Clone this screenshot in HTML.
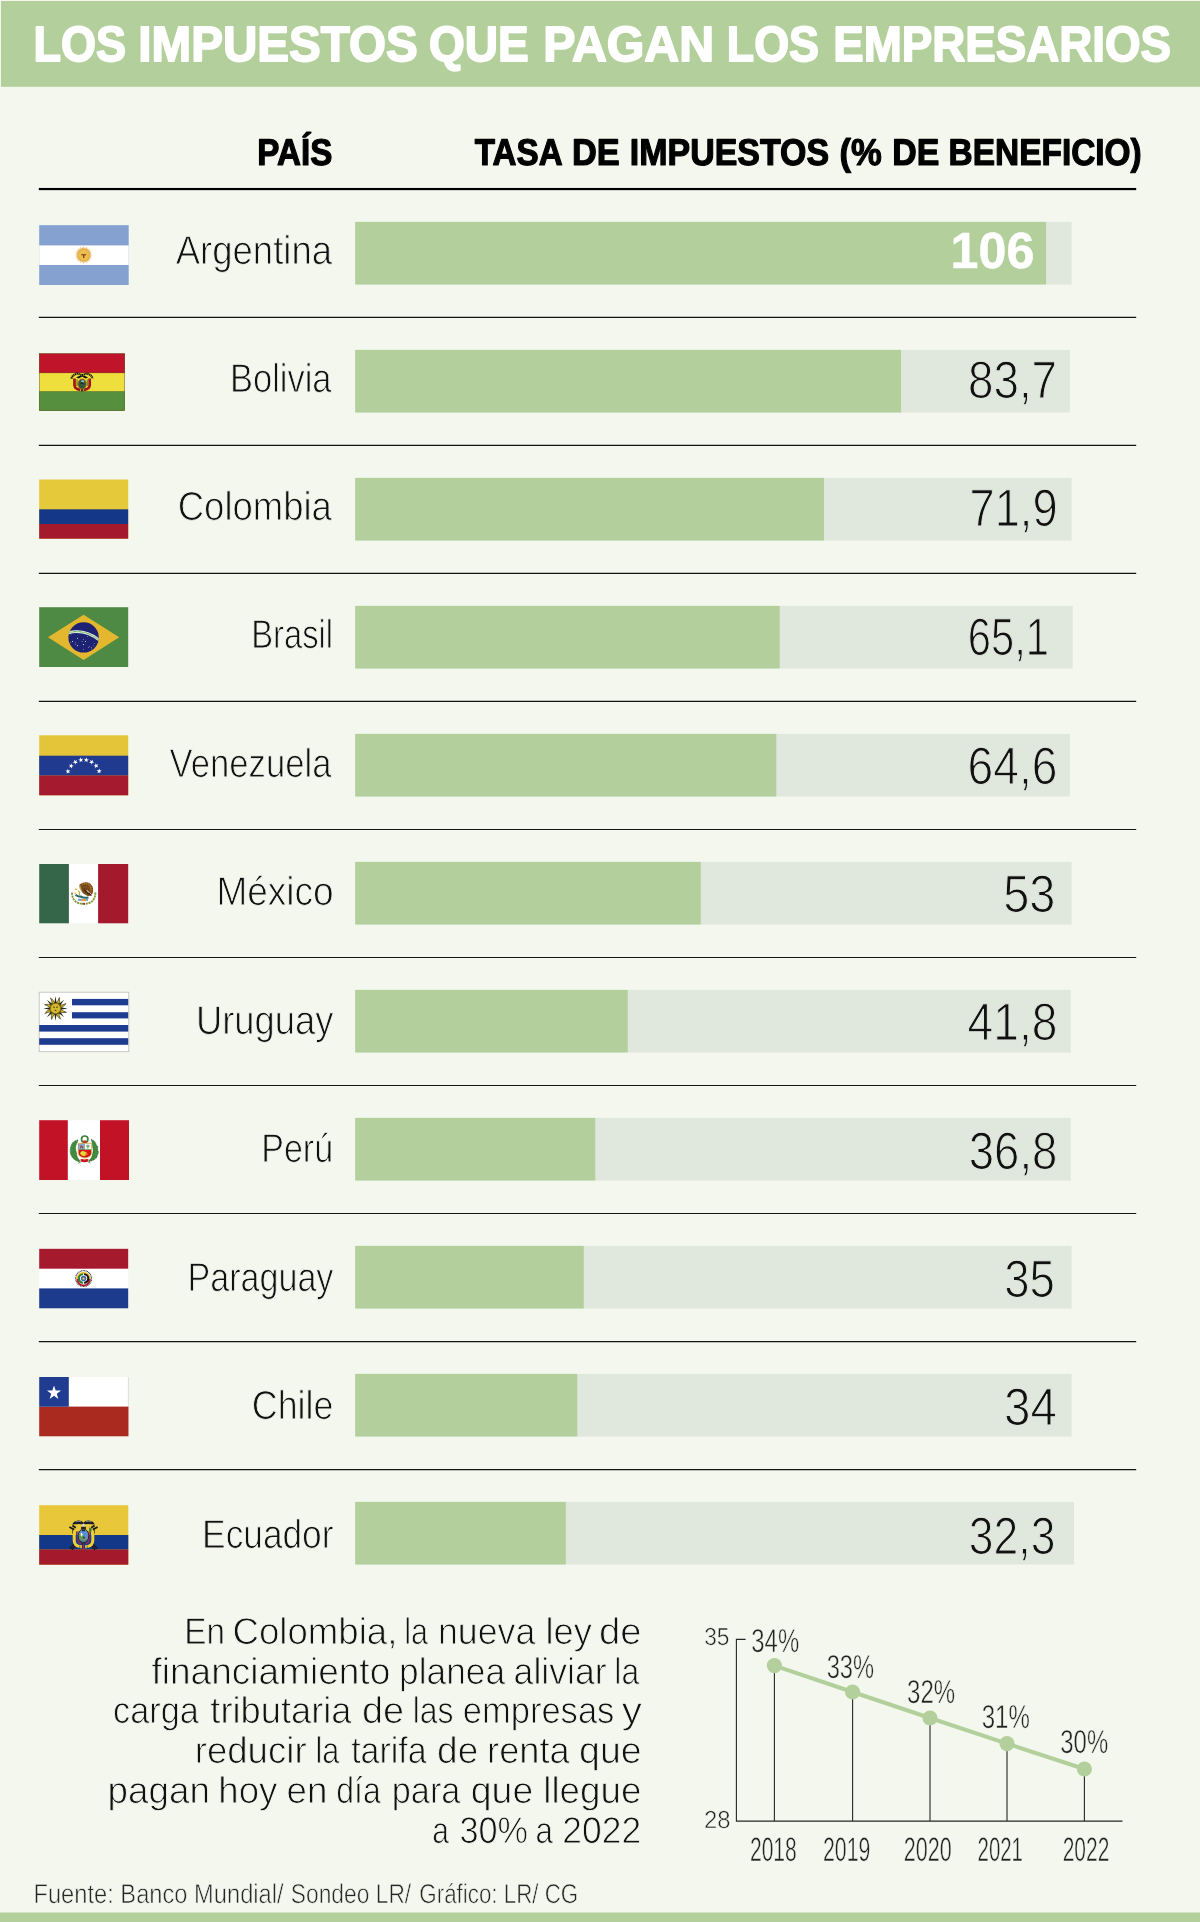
<!DOCTYPE html>
<html lang="es"><head><meta charset="utf-8"><title>Los impuestos que pagan los empresarios</title>
<style>html,body{margin:0;padding:0;background:#f4f7ee;}body{width:1200px;height:1922px;overflow:hidden;font-family:"Liberation Sans", sans-serif;}</style>
</head><body>
<svg width="1200" height="1922" viewBox="0 0 1200 1922" font-family='"Liberation Sans", sans-serif' style="display:block">
<rect width="1200" height="1922" fill="#f4f7ee"/>
<rect x="1" y="1" width="1199" height="85.8" fill="#b3cf9c"/>
<rect x="0" y="1912.5" width="1200" height="9.5" fill="#b3cf9c"/>
<rect x="38.8" y="187.95" width="1097.4" height="2.2" fill="#000"/>
<rect x="38.8" y="316.75" width="1097.4" height="1.25" fill="#141412"/>
<rect x="38.8" y="444.75" width="1097.4" height="1.25" fill="#141412"/>
<rect x="38.8" y="572.75" width="1097.4" height="1.25" fill="#141412"/>
<rect x="38.8" y="700.75" width="1097.4" height="1.25" fill="#141412"/>
<rect x="38.8" y="829" width="1097.4" height="1.0" fill="#141412"/>
<rect x="38.8" y="957" width="1097.4" height="1.0" fill="#141412"/>
<rect x="38.8" y="1085" width="1097.4" height="1.0" fill="#141412"/>
<rect x="38.8" y="1213" width="1097.4" height="1.0" fill="#141412"/>
<rect x="38.8" y="1341" width="1097.4" height="1.25" fill="#141412"/>
<rect x="38.8" y="1469" width="1097.4" height="1.25" fill="#141412"/>
<rect x="355.2" y="221.90" width="716.40" height="62.6" fill="#e0e7dd"/>
<rect x="355.2" y="221.90" width="690.90" height="62.6" fill="#b3cf9c"/>
<rect x="355.2" y="349.90" width="714.70" height="62.6" fill="#e0e7dd"/>
<rect x="355.2" y="349.90" width="545.80" height="62.6" fill="#b3cf9c"/>
<rect x="355.2" y="477.90" width="716.40" height="62.6" fill="#e0e7dd"/>
<rect x="355.2" y="477.90" width="468.80" height="62.6" fill="#b3cf9c"/>
<rect x="355.2" y="605.90" width="717.50" height="62.6" fill="#e0e7dd"/>
<rect x="355.2" y="605.90" width="424.50" height="62.6" fill="#b3cf9c"/>
<rect x="355.2" y="733.90" width="714.70" height="62.6" fill="#e0e7dd"/>
<rect x="355.2" y="733.90" width="421.10" height="62.6" fill="#b3cf9c"/>
<rect x="355.2" y="861.90" width="716.40" height="62.6" fill="#e0e7dd"/>
<rect x="355.2" y="861.90" width="345.55" height="62.6" fill="#b3cf9c"/>
<rect x="355.2" y="989.90" width="715.50" height="62.6" fill="#e0e7dd"/>
<rect x="355.2" y="989.90" width="272.55" height="62.6" fill="#b3cf9c"/>
<rect x="355.2" y="1117.90" width="715.50" height="62.6" fill="#e0e7dd"/>
<rect x="355.2" y="1117.90" width="240.05" height="62.6" fill="#b3cf9c"/>
<rect x="355.2" y="1245.90" width="716.40" height="62.6" fill="#e0e7dd"/>
<rect x="355.2" y="1245.90" width="228.55" height="62.6" fill="#b3cf9c"/>
<rect x="355.2" y="1373.90" width="716.40" height="62.6" fill="#e0e7dd"/>
<rect x="355.2" y="1373.90" width="222.05" height="62.6" fill="#b3cf9c"/>
<rect x="355.2" y="1501.90" width="718.80" height="62.6" fill="#e0e7dd"/>
<rect x="355.2" y="1501.90" width="210.55" height="62.6" fill="#b3cf9c"/>
<g id="flag-ar">
<rect x="39.2" y="225.2" width="89.5" height="59.8" fill="#84a1cf"/>
<rect x="39.2" y="245.4" width="89.5" height="19.6" fill="#fff"/>
<polygon points="83.70,246.00 84.79,249.51 87.14,246.69 86.81,250.34 90.06,248.64 88.36,251.89 92.01,251.56 89.19,253.91 92.70,255.00 89.19,256.09 92.01,258.44 88.36,258.11 90.06,261.36 86.81,259.66 87.14,263.31 84.79,260.49 83.70,264.00 82.61,260.49 80.26,263.31 80.59,259.66 77.34,261.36 79.04,258.11 75.39,258.44 78.21,256.09 74.70,255.00 78.21,253.91 75.39,251.56 79.04,251.89 77.34,248.64 80.59,250.34 80.26,246.69 82.61,249.51" fill="#e8b554" opacity="0.9"/>
<polygon points="85.26,247.15 85.77,250.01 88.14,248.35 87.52,251.18 90.35,250.56 88.69,252.93 91.55,253.44 89.10,255.00 91.55,256.56 88.69,257.07 90.35,259.44 87.52,258.82 88.14,261.65 85.77,259.99 85.26,262.85 83.70,260.40 82.14,262.85 81.63,259.99 79.26,261.65 79.88,258.82 77.05,259.44 78.71,257.07 75.85,256.56 78.30,255.00 75.85,253.44 78.71,252.93 77.05,250.56 79.88,251.18 79.26,248.35 81.63,250.01 82.14,247.15 83.70,249.60" fill="#e2a544" opacity="0.85"/>
<circle cx="83.7" cy="255" r="5.2" fill="#ecc04e"/>
<path d="M81.2 254.2h5v1.1h-1.9v2.8h-1.2v-2.8h-1.9z" fill="#7a2e12"/>
</g>
<g id="flag-bo">
<rect x="39.2" y="353.5" width="85.6" height="57.3" fill="#eedf3c"/>
<rect x="39.2" y="353.5" width="85.6" height="19.3" fill="#c0142a"/>
<rect x="39.2" y="391.3" width="85.6" height="19.50" fill="#56903f"/>
<rect x="39.2" y="372.4" width="85.6" height="0.7" fill="#7d1220" opacity="0.8"/>
<rect x="39.2" y="391" width="85.6" height="0.6" fill="#6b7a20" opacity="0.8"/>
<rect x="39.400000000000006" y="353.7" width="85.19999999999999" height="56.9" fill="none" stroke="#3c3a22" stroke-width="0.5" opacity="0.75"/>
<path d="M71.4 378.6 Q72.6 374.6 77.6 373.6 L82.1 375.2 L86.6 373.6 Q91.6 374.6 92.8 378.6" fill="none" stroke="#15150c" stroke-width="2.1" stroke-dasharray="1.3 0.55"/>
<path d="M76 377.4 Q82.1 373.8 88.2 377.4 L85.4 378.4 L82.1 376.6 L78.8 378.4Z" fill="#15150c"/>
<path d="M74.5 378.6 V385.4 Q75 389.2 80.2 389.8" fill="none" stroke="#9a1b1a" stroke-width="2.7"/>
<path d="M89.7 378.6 V385.4 Q89.2 389.2 84 389.8" fill="none" stroke="#9a1b1a" stroke-width="2.7"/>
<path d="M77 379.5 V386 M87.2 379.5 V386" fill="none" stroke="#3d5a1e" stroke-width="0.9"/>
<ellipse cx="82.1" cy="384.1" rx="4.1" ry="5.1" fill="#2f5a38" stroke="#b9541c" stroke-width="0.9"/>
<ellipse cx="82.6" cy="381.4" rx="1.6" ry="1.1" fill="#8cc4dc"/>
<path d="M80 383.5 l2-1.8 2.2 2.6 z" fill="#1c2a22"/>
<rect x="80.8" y="389.3" width="2.6" height="2.2" fill="#3a2a2a"/>
</g>
<g id="flag-co">
<rect x="39.2" y="479.5" width="89" height="59.2" fill="#e6c83b"/>
<rect x="39.2" y="509.3" width="89" height="14.8" fill="#143887"/>
<rect x="39.2" y="524" width="89" height="14.70" fill="#a4192b"/>
</g>
<g id="flag-br">
<rect x="39.2" y="607.2" width="89" height="59.8" fill="#4f8a44"/>
<polygon points="48,637.3 83.6,614.7 119.2,637.3 83.6,660" fill="#e3b82f"/>
<circle cx="83.6" cy="637.4" r="15.2" fill="#1d2372"/>
<clipPath id="brc"><circle cx="83.6" cy="637.4" r="15.2"/></clipPath>
<g clip-path="url(#brc)"><path d="M67 633 Q84.5 628.2 99.5 640.3" fill="none" stroke="#f4f6ee" stroke-width="2.7"/>
<path d="M67 633 Q84.5 628.2 99.5 640.3" fill="none" stroke="#3f9a3f" stroke-width="1.3" stroke-dasharray="0.7 0.5"/></g>
<circle cx="77.48" cy="638.28" r="0.55" fill="#fff" opacity="0.9"/>
<circle cx="72.52" cy="641.48" r="0.55" fill="#fff" opacity="0.9"/>
<circle cx="70.48" cy="642.60" r="0.4" fill="#fff" opacity="0.9"/>
<circle cx="75.40" cy="642.80" r="0.4" fill="#fff" opacity="0.9"/>
<circle cx="75.20" cy="644.20" r="0.4" fill="#fff" opacity="0.9"/>
<circle cx="77.40" cy="645.60" r="0.55" fill="#fff" opacity="0.9"/>
<circle cx="83.52" cy="639.72" r="0.4" fill="#fff" opacity="0.9"/>
<circle cx="82.08" cy="641.60" r="0.4" fill="#fff" opacity="0.9"/>
<circle cx="85.48" cy="641.48" r="0.55" fill="#fff" opacity="0.9"/>
<circle cx="83.60" cy="644.60" r="0.55" fill="#fff" opacity="0.9"/>
<circle cx="83.52" cy="649.40" r="0.4" fill="#fff" opacity="0.9"/>
<circle cx="87.40" cy="636.40" r="0.4" fill="#fff" opacity="0.9"/>
<circle cx="71.00" cy="634.80" r="0.4" fill="#fff" opacity="0.9"/>
<circle cx="88.60" cy="647.40" r="0.4" fill="#fff" opacity="0.9"/>
<circle cx="89.60" cy="646.40" r="0.4" fill="#fff" opacity="0.9"/>
<circle cx="91.40" cy="647.40" r="0.4" fill="#fff" opacity="0.9"/>
<circle cx="94.20" cy="643.40" r="0.4" fill="#fff" opacity="0.9"/>
<circle cx="93.20" cy="645.80" r="0.4" fill="#fff" opacity="0.9"/>
<circle cx="91.60" cy="649.00" r="0.4" fill="#fff" opacity="0.9"/>
</g>
<g id="flag-ve">
<rect x="39.2" y="735.3" width="89" height="60" fill="#e4c53a"/>
<rect x="39.2" y="755.7" width="89" height="19.9" fill="#203a8f"/>
<rect x="39.2" y="775.5" width="89" height="19.80" fill="#a61a30"/>
<polygon points="65.37,770.73 67.31,770.54 67.76,768.64 68.54,770.43 70.49,770.28 69.02,771.57 69.77,773.37 68.09,772.38 66.61,773.65 67.03,771.74" fill="#fff"/>
<polygon points="68.95,764.45 70.82,765.01 71.96,763.42 72.01,765.37 73.87,765.95 72.03,766.60 72.05,768.55 70.86,767.00 69.01,767.62 70.12,766.02" fill="#fff"/>
<polygon points="73.86,759.74 75.39,760.95 77.03,759.90 76.35,761.73 77.85,762.97 75.91,762.88 75.19,764.70 74.67,762.82 72.73,762.70 74.35,761.62" fill="#fff"/>
<polygon points="80.32,757.35 81.28,759.05 83.19,758.69 81.88,760.13 82.81,761.84 81.03,761.03 79.69,762.45 79.91,760.51 78.15,759.67 80.07,759.28" fill="#fff"/>
<polygon points="86.85,757.35 87.10,759.28 89.01,759.67 87.25,760.51 87.47,762.45 86.13,761.03 84.36,761.84 85.29,760.13 83.97,758.69 85.89,759.05" fill="#fff"/>
<polygon points="93.14,759.74 92.65,761.62 94.27,762.70 92.33,762.82 91.81,764.70 91.09,762.88 89.15,762.97 90.65,761.73 89.97,759.90 91.61,760.95" fill="#fff"/>
<polygon points="98.38,764.28 97.22,765.85 98.32,767.46 96.47,766.84 95.29,768.39 95.31,766.44 93.47,765.79 95.33,765.20 95.38,763.25 96.51,764.84" fill="#fff"/>
<polygon points="101.80,770.56 100.13,771.58 100.56,773.48 99.08,772.21 97.40,773.20 98.14,771.40 96.68,770.11 98.63,770.27 99.40,768.48 99.86,770.37" fill="#fff"/>
</g>
<g id="flag-mx">
<rect x="39.2" y="864" width="89" height="59.3" fill="#fff"/>
<rect x="39.2" y="864" width="29.7" height="59.3" fill="#36664a"/>
<rect x="98.1" y="864" width="30.10" height="59.3" fill="#a41a2c"/>
<path d="M72 892.6 Q72.2 903.8 83.7 903.9 Q95.2 903.8 95.4 892.6" fill="none" stroke="#8a9838" stroke-width="1.9" stroke-dasharray="2.2 0.7"/>
<path d="M79.5 884.5 Q85 880.5 90.2 883.6 Q94.2 887.5 92.8 893 Q91.5 896.5 87.5 896 L83.2 893.5 Q80.5 890.5 81 888 Q79 887 79.5 884.5Z" fill="#80501f"/>
<path d="M82 884.5 Q86 882.5 89.5 885 Q91.8 888 90.8 891.5" fill="none" stroke="#a8762f" stroke-width="1.6" stroke-dasharray="1.2 0.8"/>
<path d="M86.5 890.5 L91.5 894.8" stroke="#f3ede0" stroke-width="1.1"/>
<path d="M81.5 886.5 Q85.5 884 89 886.5 M82.5 889 Q86 887 90 890.5 M85 892.5 Q88 893 90.5 893.5" fill="none" stroke="#4a2c10" stroke-width="1" stroke-dasharray="0.9 1.1"/>
<path d="M80.2 885.6 Q79.4 888 81.2 890.2" fill="none" stroke="#a89a3a" stroke-width="1.3"/>
<path d="M84 889.5 Q88 893.5 91.5 895.5" fill="none" stroke="#3a2410" stroke-width="1.2"/>
<path d="M75 889 l2.2 0.6 M78.2 890.5 l1.6 2.2 M79.2 892.6 l0.4 2.4" stroke="#c9a52c" stroke-width="1.2" fill="none"/>
<path d="M75.5 894.8 Q78 897 81 896.6 Q84 898.5 88.5 897.4" fill="none" stroke="#2f6b66" stroke-width="2.1"/>
<rect x="78" y="898.8" width="10" height="2" fill="#4f8fd0" opacity="0.85"/>
<rect x="81.3" y="898.9" width="4.6" height="2.2" fill="#e39a3a"/>
<rect x="82.3" y="902.8" width="1.3" height="1.8" fill="#3c7a3a"/><rect x="83.6" y="902.8" width="1.3" height="1.8" fill="#b82030"/>
<circle cx="75.2" cy="893.3" r="0.7" fill="#e07a2a"/>
</g>
<g id="flag-uy">
<rect x="39.2" y="992.2" width="89.6" height="59.5" fill="#fff" stroke="#bdbdb6" stroke-width="0.8"/>
<rect x="72" y="998.9" width="56.20" height="6.40" fill="#1e3c90"/>
<rect x="72" y="1012.2" width="56.20" height="6.20" fill="#1e3c90"/>
<rect x="39.2" y="1025" width="89.00" height="6.60" fill="#1e3c90"/>
<rect x="39.2" y="1038.2" width="89.00" height="6.60" fill="#1e3c90"/>
<polygon points="56.75,1004.00 55.50,996.20 54.25,1004.00" fill="#2a2614"/>
<polygon points="59.57,1006.20 64.20,999.80 57.80,1004.43" fill="#2a2614"/>
<polygon points="60.00,1009.75 67.80,1008.50 60.00,1007.25" fill="#2a2614"/>
<polygon points="57.80,1012.57 64.20,1017.20 59.57,1010.80" fill="#2a2614"/>
<polygon points="54.25,1013.00 55.50,1020.80 56.75,1013.00" fill="#2a2614"/>
<polygon points="51.43,1010.80 46.80,1017.20 53.20,1012.57" fill="#2a2614"/>
<polygon points="51.00,1007.25 43.20,1008.50 51.00,1009.75" fill="#2a2614"/>
<polygon points="53.20,1004.43 46.80,999.80 51.43,1006.20" fill="#2a2614"/>
<path d="M58.79 1004.99 Q60.23 1001.26 59.38 997.55 Q58.28 1000.99 55.65 1003.69Z" fill="#cdb22a" stroke="#2a2408" stroke-width="0.6"/>
<path d="M60.31 1008.35 Q63.97 1006.73 65.99 1003.51 Q62.78 1005.16 59.01 1005.21Z" fill="#cdb22a" stroke="#2a2408" stroke-width="0.6"/>
<path d="M59.01 1011.79 Q62.74 1013.23 66.45 1012.38 Q63.01 1011.28 60.31 1008.65Z" fill="#cdb22a" stroke="#2a2408" stroke-width="0.6"/>
<path d="M55.65 1013.31 Q57.27 1016.97 60.49 1018.99 Q58.84 1015.78 58.79 1012.01Z" fill="#cdb22a" stroke="#2a2408" stroke-width="0.6"/>
<path d="M52.21 1012.01 Q50.77 1015.74 51.62 1019.45 Q52.72 1016.01 55.35 1013.31Z" fill="#cdb22a" stroke="#2a2408" stroke-width="0.6"/>
<path d="M50.69 1008.65 Q47.03 1010.27 45.01 1013.49 Q48.22 1011.84 51.99 1011.79Z" fill="#cdb22a" stroke="#2a2408" stroke-width="0.6"/>
<path d="M51.99 1005.21 Q48.26 1003.77 44.55 1004.62 Q47.99 1005.72 50.69 1008.35Z" fill="#cdb22a" stroke="#2a2408" stroke-width="0.6"/>
<path d="M55.35 1003.69 Q53.73 1000.03 50.51 998.01 Q52.16 1001.22 52.21 1004.99Z" fill="#cdb22a" stroke="#2a2408" stroke-width="0.6"/>
<circle cx="55.5" cy="1008.5" r="5.6" fill="#d4ba2c" stroke="#3a300c" stroke-width="0.6"/>
<path d="M53 1007.2h1.9 M56.1 1007.2h1.9" stroke="#1c180a" stroke-width="0.7"/>
<path d="M54.2 1010.3 q1.3 -1 2.6 0 q-1.3 0.9 -2.6 0z" fill="#1c180a"/>
<circle cx="55.5" cy="1008.5" r="5.2" fill="none" stroke="#4f4410" stroke-width="1.3" stroke-dasharray="0.6 0.8" opacity="0.8"/>
</g>
<g id="flag-pe">
<rect x="39.2" y="1120.2" width="89.8" height="59.8" fill="#fff"/>
<rect x="39.2" y="1120.2" width="28.6" height="59.8" fill="#c21225"/>
<rect x="100" y="1120.2" width="29.00" height="59.8" fill="#c21225"/>
<path d="M78 1140 Q74.5 1140.2 72 1143.5 Q69.6 1148 70.4 1153 Q71.5 1158 76 1160.6 L79.2 1162 L80 1160.6 Q76.5 1157.8 76.6 1153 Q74.6 1148 76.2 1144.5 Q77.5 1142 78 1140Z" fill="#3f8c3c" stroke="#1f4f22" stroke-width="0.7" stroke-dasharray="1.1 0.7"/>
<path d="M91.2 1139.4 Q94.6 1140.2 95.8 1143.5 Q96.2 1145.6 97.8 1146.6 Q97.2 1149.6 98.6 1152.6 Q97.2 1155 96.8 1157.6 Q94.5 1160 91.5 1160.8 L89.4 1161.6 L88.8 1160.4 Q92 1158.2 92.6 1154.2 Q93.8 1150 92.6 1146.6 Q92.6 1143 91.2 1139.4Z" fill="#3f8c3c" stroke="#1f4f22" stroke-width="0.7" stroke-dasharray="1.1 0.7"/>
<circle cx="84.7" cy="1139.2" r="3.2" fill="none" stroke="#3a8238" stroke-width="1.7"/>
<path d="M83.4 1140.5 h2.8 l0.6 2.6 h-4z" fill="#d2281c"/>
<path d="M78.2 1143.4 H91.6 V1152.8 Q91.4 1157.2 84.9 1158 Q78.4 1157.2 78.2 1152.8Z" fill="#d0151b" stroke="#d4bf48" stroke-width="0.8"/>
<rect x="78.6" y="1143.8" width="6.2" height="5.9" fill="#8ea9da"/>
<rect x="84.8" y="1143.8" width="6.4" height="5.9" fill="#fafaf6"/>
<path d="M80.2 1148.8v-2.6h0.5v-1.2h0.7v1.2h1.8v2.6h-0.7v-1.4h-1.6v1.4z" fill="#8a4a22"/>
<circle cx="87.9" cy="1146.1" r="1.7" fill="#5aa860" opacity="0.85"/><rect x="87.6" y="1147.4" width="0.6" height="1.8" fill="#4a8a4a"/>
<rect x="78.6" y="1149.4" width="12.6" height="0.6" fill="#5a9a40"/>
<path d="M80 1153.6 Q80.4 1150.8 83 1151 Q86 1151.4 87.4 1153.4 L85.4 1153.6 L85.6 1155.8 Q82 1157 80 1153.6Z" fill="#e6d83a"/>
<path d="M85 1154.2 h2.8" stroke="#e6d83a" stroke-width="0.7"/>
<path d="M80.4 1159.2 Q82.4 1158.4 84.5 1159.6 Q86.6 1158.4 88.6 1159.2 L87.8 1161.8 Q84.5 1162.6 81.2 1161.8Z" fill="#cc1520"/>
<path d="M78.4 1163.4 l2.6-1.8 M90.4 1163 l-2.6-1.6" stroke="#3f8c3c" stroke-width="0.9"/>
</g>
<g id="flag-py">
<rect x="39.2" y="1248.8" width="89" height="59.5" fill="#fff"/>
<rect x="39.2" y="1248.8" width="89" height="19.9" fill="#a51a2d"/>
<rect x="39.2" y="1288.4" width="89" height="19.90" fill="#1c3b8d"/>
<circle cx="83.6" cy="1278.5" r="7.9" fill="#fff" stroke="#333" stroke-width="1.2" stroke-dasharray="0.9 0.6"/>
<path d="M77.3 1279.1 A6.3 6.3 0 0 1 89.89999999999999 1279.1" fill="none" stroke="#f0c320" stroke-width="1.8"/>
<path d="M77.3 1279.1 A6.3 6.3 0 0 0 89.89999999999999 1279.1" fill="none" stroke="#b8182a" stroke-width="1.8"/>
<path d="M83.1 1274.3 A4.2 4.2 0 0 0 83.1 1282.7" fill="none" stroke="#2f7d33" stroke-width="2.1"/>
<path d="M84.1 1274.3 A4.2 4.2 0 0 1 84.1 1282.7" fill="none" stroke="#151515" stroke-width="2.1"/>
<circle cx="83.6" cy="1278.5" r="2.7" fill="#3a63bd"/>
<polygon points="83.60,1276.85 84.07,1277.95 85.26,1278.06 84.36,1278.85 84.63,1280.02 83.60,1279.40 82.57,1280.02 82.84,1278.85 81.94,1278.06 83.13,1277.95" fill="#f2d02c"/>
</g>
<g id="flag-cl">
<rect x="39.2" y="1377" width="89.3" height="59.3" fill="#fff"/>
<rect x="39.2" y="1406.6" width="89.3" height="29.70" fill="#ab2a1f"/>
<rect x="39.2" y="1377" width="29.6" height="29.7" fill="#203c90"/>
<polygon points="54.00,1385.50 55.70,1390.55 61.04,1390.61 56.76,1393.80 58.35,1398.89 54.00,1395.80 49.65,1398.89 51.24,1393.80 46.96,1390.61 52.30,1390.55" fill="#fff"/>
<rect x="127.9" y="1377" width="0.6" height="29.6" fill="#c8c8c4"/>
</g>
<g id="flag-ec">
<rect x="39.2" y="1505.2" width="89.1" height="59.5" fill="#e8c83a"/>
<rect x="39.2" y="1535" width="89.1" height="14.6" fill="#143888"/>
<rect x="39.2" y="1549.5" width="89.1" height="15.20" fill="#a4192b"/>
<path d="M69.8 1548.6 L75 1543.4 M71.8 1549.6 L76.4 1545 M97.2 1548.6 L92 1543.4 M95.2 1549.6 L90.6 1545" stroke="#1a1a22" stroke-width="1.5"/>
<path d="M74.2 1530.6 V1540.5 Q74.4 1545.6 79.6 1546.6" fill="none" stroke="#f0d22e" stroke-width="3"/>
<path d="M92.8 1530.6 V1540.5 Q92.6 1545.6 87.4 1546.6" fill="none" stroke="#f0d22e" stroke-width="3"/>
<path d="M76.6 1531.4 V1540 Q77 1543.6 80.4 1544.6" fill="none" stroke="#26409a" stroke-width="1.1"/>
<path d="M90.4 1531.4 V1540 Q90 1543.6 86.6 1544.6" fill="none" stroke="#26409a" stroke-width="1.1"/>
<path d="M77.9 1531.2 V1539.6 Q78.4 1542.6 81 1543.6" fill="none" stroke="#c8202a" stroke-width="1.1"/>
<path d="M89.1 1531.2 V1539.6 Q88.6 1542.6 86 1543.6" fill="none" stroke="#c8202a" stroke-width="1.1"/>
<path d="M81 1545 v3.2 M86 1545 v3.2" stroke="#f0d22e" stroke-width="1.6"/>
<path d="M69.4 1527 l4.8 2.6 M97.6 1527 l-4.8 2.6 M72.4 1525.4 l3.4 2.4 M94.6 1525.4 l-3.4 2.4" stroke="#1c1c20" stroke-width="1.8"/>
<path d="M72.6 1530 v3.6 M94.4 1530 v3.6" stroke="#3a3420" stroke-width="0.8"/>
<path d="M83.5 1526.8 L82.2 1524.2 Q78 1523.6 72.2 1524.6 Q73.4 1521 78.4 1520.5 Q82 1520.4 83.5 1522.8 Q85 1520.4 88.6 1520.5 Q93.6 1521 94.8 1524.6 Q89 1523.6 84.8 1524.2Z" fill="#1b1b20"/>
<path d="M75.6 1521.9 Q78.6 1521 81.4 1521.7 M91.4 1521.9 Q88.4 1521 85.6 1521.7" stroke="#c8c8d4" stroke-width="0.6" fill="none"/>
<ellipse cx="83.5" cy="1525.2" rx="1.5" ry="1.7" fill="#d8d4d0"/>
<rect x="81.1" y="1526.8" width="4.8" height="2.2" fill="#26221c"/>
<path d="M89.2 1527.2 L91.6 1528.8 L91.4 1531.6 L89.2 1531.8Z" fill="#2f7a34"/>
<ellipse cx="83.5" cy="1535.6" rx="5.3" ry="6.6" fill="#5b8fd2" stroke="#1f1f28" stroke-width="0.9"/>
<clipPath id="ecc"><ellipse cx="83.5" cy="1535.6" rx="4.9" ry="6.2"/></clipPath>
<g clip-path="url(#ecc)"><rect x="78" y="1537.6" width="11" height="5" fill="#6f8fa8"/>
<path d="M78 1540 L79 1534.8 L81.2 1532.6 L83.4 1536 L85.6 1537.4 L78 1541Z" fill="#5f9a46"/>
<path d="M80.6 1533.4 l0.9 -0.9 1 1.8 -0.4 2.2 -1.2-0.4z" fill="#f3f3ee"/>
<rect x="78" y="1540.4" width="11" height="2" fill="#4c8a55"/>
<rect x="81.9" y="1529.2" width="3.2" height="2" fill="#22222a"/>
<path d="M83.2 1536.8 h1.4 v1.6 h-1.4z" fill="#222"/></g>
<path d="M83.5 1544.2 V1549.6" stroke="#c0202c" stroke-width="1.3"/>
<rect x="82.6" y="1542.2" width="1.8" height="2.2" fill="#3a3424"/>
</g>
<path d="M745.6 1639.4H736.4V1821.1H1122.5" fill="none" stroke="#262624" stroke-width="1.1"/>
<line x1="774.4" y1="1665.6" x2="774.4" y2="1821.1" stroke="#262624" stroke-width="1.1"/>
<line x1="852.6" y1="1692" x2="852.6" y2="1821.1" stroke="#262624" stroke-width="1.1"/>
<line x1="930" y1="1718" x2="930" y2="1821.1" stroke="#262624" stroke-width="1.1"/>
<line x1="1007" y1="1743.6" x2="1007" y2="1821.1" stroke="#262624" stroke-width="1.1"/>
<line x1="1084.4" y1="1769" x2="1084.4" y2="1821.1" stroke="#262624" stroke-width="1.1"/>
<polyline points="774.4,1665.6 852.6,1692 930,1718 1007,1743.6 1084.4,1769" fill="none" stroke="#b3cf9c" stroke-width="4"/>
<circle cx="774.4" cy="1665.6" r="7.6" fill="#b3cf9c"/>
<circle cx="852.6" cy="1692" r="7.6" fill="#b3cf9c"/>
<circle cx="930" cy="1718" r="7.6" fill="#b3cf9c"/>
<circle cx="1007" cy="1743.6" r="7.6" fill="#b3cf9c"/>
<circle cx="1084.4" cy="1769" r="7.6" fill="#b3cf9c"/>
<g style="opacity:0.999" text-rendering="geometricPrecision">
<text transform="translate(33.49,61.10) scale(0.9023,0.9958)" font-size="49.9" font-weight="700" fill="#fff" stroke="#fff" stroke-width="1.8" stroke-linejoin="round">LOS</text>
<text transform="translate(138.36,61.10) scale(0.9535,0.9958)" font-size="49.9" font-weight="700" fill="#fff" stroke="#fff" stroke-width="1.8" stroke-linejoin="round">IMPUESTOS</text>
<text transform="translate(428.91,61.10) scale(0.9232,0.9958)" font-size="49.9" font-weight="700" fill="#fff" stroke="#fff" stroke-width="1.8" stroke-linejoin="round">QUE</text>
<text transform="translate(543.33,61.10) scale(0.9677,0.9958)" font-size="49.9" font-weight="700" fill="#fff" stroke="#fff" stroke-width="1.8" stroke-linejoin="round">PAGAN</text>
<text transform="translate(726.80,61.10) scale(0.8993,0.9958)" font-size="49.9" font-weight="700" fill="#fff" stroke="#fff" stroke-width="1.8" stroke-linejoin="round">LOS</text>
<text transform="translate(833.15,61.10) scale(0.9162,0.9958)" font-size="49.9" font-weight="700" fill="#fff" stroke="#fff" stroke-width="1.8" stroke-linejoin="round">EMPRESARIOS</text>
<text transform="translate(257.37,165.47) scale(0.8923,1.0006)" font-size="37.2" font-weight="700" fill="#000" stroke="#000" stroke-width="1.2" stroke-linejoin="round">PAÍS</text>
<text transform="translate(474.79,165.47) scale(0.8921,1.0006)" font-size="37.2" font-weight="700" fill="#000" stroke="#000" stroke-width="1.2" stroke-linejoin="round">TASA</text>
<text transform="translate(572.01,165.47) scale(0.9252,1.0006)" font-size="37.2" font-weight="700" fill="#000" stroke="#000" stroke-width="1.2" stroke-linejoin="round">DE</text>
<text transform="translate(629.84,165.47) scale(0.9123,1.0006)" font-size="37.2" font-weight="700" fill="#000" stroke="#000" stroke-width="1.2" stroke-linejoin="round">IMPUESTOS</text>
<text transform="translate(839.58,165.47) scale(0.9298,1.0006)" font-size="37.2" font-weight="700" fill="#000" stroke="#000" stroke-width="1.2" stroke-linejoin="round">(%</text>
<text transform="translate(892.24,165.47) scale(0.9109,1.0006)" font-size="37.2" font-weight="700" fill="#000" stroke="#000" stroke-width="1.2" stroke-linejoin="round">DE</text>
<text transform="translate(948.56,165.47) scale(0.8991,1.0006)" font-size="37.2" font-weight="700" fill="#000" stroke="#000" stroke-width="1.2" stroke-linejoin="round">BENEFICIO)</text>
<text transform="translate(175.70,263.67) scale(0.9392,1.0380)" font-size="38.9" fill="#111" stroke="#f4f7ee" stroke-width="0.9">Argentina</text>
<text transform="translate(229.97,391.82) scale(0.8866,1.0380)" font-size="38.9" fill="#111" stroke="#f4f7ee" stroke-width="0.9">Bolivia</text>
<text transform="translate(177.76,519.82) scale(0.9381,1.0380)" font-size="38.9" fill="#111" stroke="#f4f7ee" stroke-width="0.9">Colombia</text>
<text transform="translate(251.14,648.12) scale(0.8428,1.0380)" font-size="38.9" fill="#111" stroke="#f4f7ee" stroke-width="0.9">Brasil</text>
<text transform="translate(169.56,776.57) scale(0.8911,1.0380)" font-size="38.9" fill="#111" stroke="#f4f7ee" stroke-width="0.9">Venezuela</text>
<text transform="translate(216.43,905.32) scale(0.9515,1.0380)" font-size="38.9" fill="#111" stroke="#f4f7ee" stroke-width="0.9">México</text>
<text transform="translate(195.93,1033.62) scale(0.9345,1.0380)" font-size="38.9" fill="#111" stroke="#f4f7ee" stroke-width="0.9">Uruguay</text>
<text transform="translate(261.22,1162.37) scale(0.8748,1.0380)" font-size="38.9" fill="#111" stroke="#f4f7ee" stroke-width="0.9">Perú</text>
<text transform="translate(187.46,1290.82) scale(0.8767,1.0380)" font-size="38.9" fill="#111" stroke="#f4f7ee" stroke-width="0.9">Paraguay</text>
<text transform="translate(251.81,1419.12) scale(0.9211,1.0380)" font-size="38.9" fill="#111" stroke="#f4f7ee" stroke-width="0.9">Chile</text>
<text transform="translate(202.10,1547.62) scale(0.9070,1.0380)" font-size="38.9" fill="#111" stroke="#f4f7ee" stroke-width="0.9">Ecuador</text>
<text transform="translate(950.59,268.44) scale(1.0116,1.0260)" font-size="49.6" font-weight="700" fill="#fff" stroke="#fff" stroke-width="0.5" stroke-linejoin="round">106</text>
<text transform="translate(967.93,398.02) scale(0.8894,1.0221)" font-size="51.5" fill="#111" stroke="#e0e7dd" stroke-width="1.1">83,7</text>
<text transform="translate(969.55,526.37) scale(0.8783,1.0221)" font-size="51.5" fill="#111" stroke="#e0e7dd" stroke-width="1.1">71,9</text>
<text transform="translate(967.79,655.12) scale(0.8094,1.0221)" font-size="51.5" fill="#111" stroke="#e0e7dd" stroke-width="1.1">65,1</text>
<text transform="translate(967.50,783.52) scale(0.8974,1.0221)" font-size="51.5" fill="#111" stroke="#e0e7dd" stroke-width="1.1">64,6</text>
<text transform="translate(1003.18,911.72) scale(0.9107,1.0221)" font-size="51.5" fill="#111" stroke="#e0e7dd" stroke-width="1.1">53</text>
<text transform="translate(967.62,1040.02) scale(0.8960,1.0221)" font-size="51.5" fill="#111" stroke="#e0e7dd" stroke-width="1.1">41,8</text>
<text transform="translate(968.79,1168.52) scale(0.8840,1.0221)" font-size="51.5" fill="#111" stroke="#e0e7dd" stroke-width="1.1">36,8</text>
<text transform="translate(1004.18,1297.07) scale(0.8849,1.0221)" font-size="51.5" fill="#111" stroke="#e0e7dd" stroke-width="1.1">35</text>
<text transform="translate(1004.06,1425.42) scale(0.9236,1.0221)" font-size="51.5" fill="#111" stroke="#e0e7dd" stroke-width="1.1">34</text>
<text transform="translate(968.85,1553.62) scale(0.8636,1.0221)" font-size="51.5" fill="#111" stroke="#e0e7dd" stroke-width="1.1">32,3</text>
<text transform="translate(184.33,1643.83) scale(0.9352,1.0474)" font-size="35.6" fill="#111" stroke="#f4f7ee" stroke-width="0.85">En</text>
<text transform="translate(232.51,1643.83) scale(1.0296,1.0474)" font-size="35.6" fill="#111" stroke="#f4f7ee" stroke-width="0.85">Colombia,</text>
<text transform="translate(404.27,1643.83) scale(0.8561,1.0474)" font-size="35.6" fill="#111" stroke="#f4f7ee" stroke-width="0.85">la</text>
<text transform="translate(437.94,1643.83) scale(1.0038,1.0474)" font-size="35.6" fill="#111" stroke="#f4f7ee" stroke-width="0.85">nueva</text>
<text transform="translate(545.50,1643.83) scale(1.0212,1.0474)" font-size="35.6" fill="#111" stroke="#f4f7ee" stroke-width="0.85">ley</text>
<text transform="translate(599.09,1643.83) scale(1.0743,1.0474)" font-size="35.6" fill="#111" stroke="#f4f7ee" stroke-width="0.85">de</text>
<text transform="translate(151.50,1683.63) scale(1.0406,1.0474)" font-size="35.6" fill="#111" stroke="#f4f7ee" stroke-width="0.85">financiamiento</text>
<text transform="translate(399.10,1683.63) scale(0.9911,1.0474)" font-size="35.6" fill="#111" stroke="#f4f7ee" stroke-width="0.85">planea</text>
<text transform="translate(513.59,1683.63) scale(1.0007,1.0474)" font-size="35.6" fill="#111" stroke="#f4f7ee" stroke-width="0.85">aliviar</text>
<text transform="translate(614.36,1683.63) scale(0.8951,1.0474)" font-size="35.6" fill="#111" stroke="#f4f7ee" stroke-width="0.85">la</text>
<text transform="translate(112.99,1723.43) scale(0.9651,1.0474)" font-size="35.6" fill="#111" stroke="#f4f7ee" stroke-width="0.85">carga</text>
<text transform="translate(210.30,1723.43) scale(1.0199,1.0474)" font-size="35.6" fill="#111" stroke="#f4f7ee" stroke-width="0.85">tributaria</text>
<text transform="translate(361.91,1723.43) scale(1.0659,1.0474)" font-size="35.6" fill="#111" stroke="#f4f7ee" stroke-width="0.85">de</text>
<text transform="translate(412.75,1723.43) scale(0.8977,1.0474)" font-size="35.6" fill="#111" stroke="#f4f7ee" stroke-width="0.85">las</text>
<text transform="translate(462.68,1723.43) scale(0.9711,1.0474)" font-size="35.6" fill="#111" stroke="#f4f7ee" stroke-width="0.85">empresas</text>
<text transform="translate(621.75,1723.43) scale(1.1361,1.0474)" font-size="35.6" fill="#111" stroke="#f4f7ee" stroke-width="0.85">y</text>
<text transform="translate(194.68,1763.13) scale(1.0296,1.0474)" font-size="35.6" fill="#111" stroke="#f4f7ee" stroke-width="0.85">reducir</text>
<text transform="translate(315.56,1763.13) scale(0.8602,1.0474)" font-size="35.6" fill="#111" stroke="#f4f7ee" stroke-width="0.85">la</text>
<text transform="translate(351.16,1763.13) scale(0.9546,1.0474)" font-size="35.6" fill="#111" stroke="#f4f7ee" stroke-width="0.85">tarifa</text>
<text transform="translate(437.06,1763.13) scale(1.0406,1.0474)" font-size="35.6" fill="#111" stroke="#f4f7ee" stroke-width="0.85">de</text>
<text transform="translate(487.11,1763.13) scale(1.0186,1.0474)" font-size="35.6" fill="#111" stroke="#f4f7ee" stroke-width="0.85">renta</text>
<text transform="translate(579.03,1763.13) scale(1.0549,1.0474)" font-size="35.6" fill="#111" stroke="#f4f7ee" stroke-width="0.85">que</text>
<text transform="translate(107.58,1802.83) scale(1.0356,1.0474)" font-size="35.6" fill="#111" stroke="#f4f7ee" stroke-width="0.85">pagan</text>
<text transform="translate(218.37,1802.83) scale(1.0280,1.0474)" font-size="35.6" fill="#111" stroke="#f4f7ee" stroke-width="0.85">hoy</text>
<text transform="translate(286.56,1802.83) scale(1.0334,1.0474)" font-size="35.6" fill="#111" stroke="#f4f7ee" stroke-width="0.85">en</text>
<text transform="translate(336.32,1802.83) scale(0.8990,1.0474)" font-size="35.6" fill="#111" stroke="#f4f7ee" stroke-width="0.85">día</text>
<text transform="translate(391.78,1802.83) scale(0.9643,1.0474)" font-size="35.6" fill="#111" stroke="#f4f7ee" stroke-width="0.85">para</text>
<text transform="translate(470.73,1802.83) scale(1.0531,1.0474)" font-size="35.6" fill="#111" stroke="#f4f7ee" stroke-width="0.85">que</text>
<text transform="translate(543.27,1802.83) scale(1.0333,1.0474)" font-size="35.6" fill="#111" stroke="#f4f7ee" stroke-width="0.85">llegue</text>
<text transform="translate(432.14,1843.23) scale(0.8449,1.0474)" font-size="35.6" fill="#111" stroke="#f4f7ee" stroke-width="0.85">a</text>
<text transform="translate(459.42,1843.23) scale(0.9638,1.0474)" font-size="35.6" fill="#111" stroke="#f4f7ee" stroke-width="0.85">30%</text>
<text transform="translate(535.56,1843.23) scale(0.8801,1.0474)" font-size="35.6" fill="#111" stroke="#f4f7ee" stroke-width="0.85">a</text>
<text transform="translate(562.31,1843.23) scale(0.9961,1.0474)" font-size="35.6" fill="#111" stroke="#f4f7ee" stroke-width="0.85">2022</text>
<text transform="translate(33.48,1902.86) scale(0.9042,1.0403)" font-size="26.2" fill="#262626" stroke="#f4f7ee" stroke-width="0.6">Fuente: Banco Mundial/</text>
<text transform="translate(290.81,1902.86) scale(0.8702,1.0403)" font-size="26.2" fill="#262626" stroke="#f4f7ee" stroke-width="0.6">Sondeo LR/</text>
<text transform="translate(419.33,1902.86) scale(0.8532,1.0403)" font-size="26.2" fill="#262626" stroke="#f4f7ee" stroke-width="0.6">Gráfico: LR/ CG</text>
<text transform="translate(751.28,1651.73) scale(0.7473,1.0344)" font-size="32" fill="#222" stroke="#f4f7ee" stroke-width="0.5">34%</text>
<text transform="translate(826.69,1677.73) scale(0.7407,1.0344)" font-size="32" fill="#222" stroke="#f4f7ee" stroke-width="0.5">33%</text>
<text transform="translate(907.07,1702.53) scale(0.7506,1.0344)" font-size="32" fill="#222" stroke="#f4f7ee" stroke-width="0.5">32%</text>
<text transform="translate(981.67,1727.73) scale(0.7506,1.0344)" font-size="32" fill="#222" stroke="#f4f7ee" stroke-width="0.5">31%</text>
<text transform="translate(1060.28,1753.13) scale(0.7473,1.0344)" font-size="32" fill="#222" stroke="#f4f7ee" stroke-width="0.5">30%</text>
<text transform="translate(704.20,1645.45) scale(0.9471,1.0264)" font-size="24" fill="#222" stroke="#f4f7ee" stroke-width="0.5">35</text>
<text transform="translate(704.00,1827.55) scale(0.9947,1.0264)" font-size="24" fill="#222" stroke="#f4f7ee" stroke-width="0.5">28</text>
<text transform="translate(749.93,1861.32) scale(0.6485,1.0419)" font-size="32.5" fill="#222" stroke="#f4f7ee" stroke-width="0.5">2018</text>
<text transform="translate(823.01,1861.32) scale(0.6551,1.0419)" font-size="32.5" fill="#222" stroke="#f4f7ee" stroke-width="0.5">2019</text>
<text transform="translate(903.70,1861.32) scale(0.6633,1.0419)" font-size="32.5" fill="#222" stroke="#f4f7ee" stroke-width="0.5">2020</text>
<text transform="translate(977.56,1861.32) scale(0.6277,1.0419)" font-size="32.5" fill="#222" stroke="#f4f7ee" stroke-width="0.5">2021</text>
<text transform="translate(1062.63,1861.32) scale(0.6454,1.0419)" font-size="32.5" fill="#222" stroke="#f4f7ee" stroke-width="0.5">2022</text>
</g>
</svg>
</body></html>
